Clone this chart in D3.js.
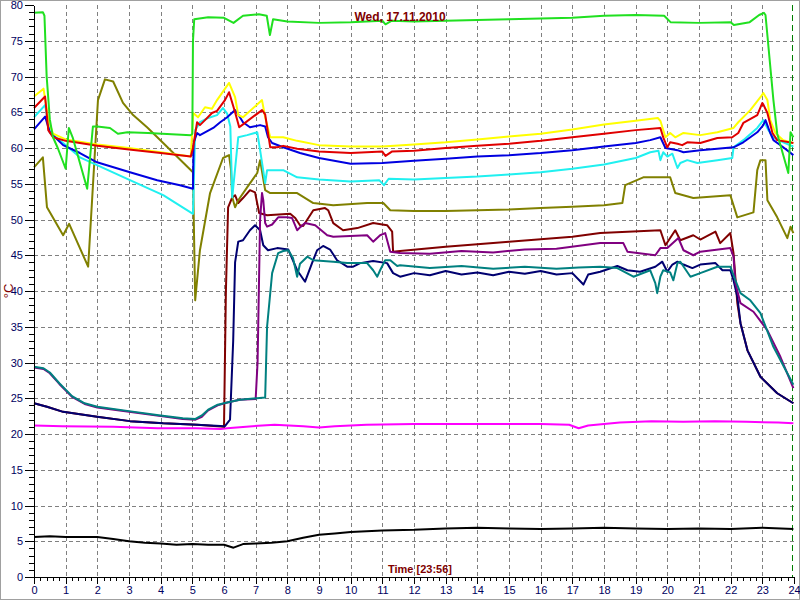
<!DOCTYPE html>
<html><head><meta charset="utf-8">
<script src="https://cdn.jsdelivr.net/npm/d3@7"></script>
<style>body{margin:0;background:#fff}svg{display:block}</style>
</head><body><svg id="c" width="800" height="600"></svg>
<script>
const title = "Wed, 17.11.2010";
const xTitle = "Time [23:56]";
const yTitle = "°C";
const xTicks = d3.range(0, 25, 1);
const yTicks = d3.range(0, 85, 5);
const nowHour = 23.93;

const green = [[0,78.9],[0.28,79],[0.33,78.5],[0.4,70],[0.5,64],[0.6,61.5],[0.75,60],[1.0,57.1],[1.1,62.8],[1.22,61.5],[1.68,54.3],[1.86,63],[2.0,63],[2.4,62.8],[2.65,62],[2.95,62.2],[3.6,62.1],[4.95,61.8],[5.0,62],[5.02,75],[5.06,78],[5.5,78.3],[6.0,78.2],[6.3,77.5],[6.6,78.5],[7.1,78.7],[7.35,78.5],[7.45,75.8],[7.55,78],[8.0,77.7],[9.0,77.5],[10,77.6],[11,77.8],[11.1,77.3],[11.3,77.8],[12,77.7],[13,77.8],[14,77.9],[15,78],[16,78.1],[17,78.2],[18,78.5],[19,78.6],[19.9,78.5],[20.1,77.6],[21,77.5],[22,77.6],[22.1,77.2],[22.6,77.6],[22.9,78.6],[23.05,78.9],[23.1,78.6],[23.35,66.7],[23.47,62],[23.82,56.5],[23.89,62.2],[23.98,61.5]];
const yellow = [[0,67.2],[0.3,68.3],[0.45,64],[0.6,62],[1,61.2],[2,60.5],[3,60],[4,59.4],[4.95,58.8],[5.03,64.9],[5.18,64.3],[5.4,65.7],[5.62,65.5],[5.78,66.7],[5.94,67.7],[6.16,69.1],[6.35,67.1],[6.45,64.6],[6.6,64.3],[7.2,66.7],[7.3,64.3],[7.46,61.5],[7.87,61.5],[8.31,61],[9,60.4],[10,60.2],[11,60.2],[12,60.5],[13,60.8],[14,61.2],[15,61.6],[16,62],[17,62.6],[18,63.3],[19,63.8],[19.7,64.2],[19.78,63.8],[19.94,61.5],[20.09,62.1],[20.25,61.5],[20.51,62.1],[21.04,61.8],[21.58,62.2],[22.09,62.8],[22.24,63.6],[22.62,65.3],[22.94,67.1],[23.03,67.7],[23.16,66.7],[23.25,63.9],[23.41,62.1],[23.66,61.1],[23.98,60.7]];
const red = [[0,65.6],[0.35,67.2],[0.45,62.5],[0.6,61.5],[1,61],[2,60.3],[3,59.8],[4,59.3],[4.95,58.8],[5.02,60],[5.15,63.6],[5.24,63.2],[5.4,63.9],[5.62,64.9],[5.78,65.2],[6.03,66.7],[6.16,67.8],[6.35,65],[6.48,62.9],[6.6,63.3],[7.2,65.3],[7.3,64.7],[7.46,60.1],[7.68,60.1],[7.87,60.3],[8.31,59.9],[9,59.5],[10,59.3],[11,59.5],[11.1,58.9],[11.3,59.5],[12,59.6],[13,60],[14,60.3],[15,60.6],[16,61],[17,61.5],[18,62],[19,62.5],[19.78,62.8],[19.87,61.5],[20.0,60.1],[20.09,60.8],[20.32,60.6],[20.47,60.4],[20.63,60.8],[21.04,60.7],[21.58,61.4],[22.05,61.5],[22.24,62.1],[22.4,63.5],[22.84,64.6],[23.0,66.3],[23.03,66.1],[23.16,64.9],[23.32,62.1],[23.47,61.1],[23.98,60.7]];
const cyan = [[0,64.3],[0.35,66],[0.5,62.2],[0.92,60.7],[1.45,58.7],[1.99,57.6],[3.03,55.5],[4.08,53.4],[5.02,50.8],[5.09,62.5],[5.24,63.6],[5.5,64.2],[5.78,64.6],[5.97,65.6],[6.1,64.8],[6.2,63],[6.26,53.1],[6.45,61.5],[6.73,61.8],[7.05,62.2],[7.14,59.7],[7.3,55.1],[7.36,56.9],[7.87,56.9],[8.31,55.9],[9,55.6],[10,55.3],[10.9,55.5],[11.05,54.8],[11.2,55.7],[12,55.6],[13,55.8],[14,56],[15,56.3],[16,56.6],[17,57.1],[18,57.7],[19,58.6],[19.46,59.4],[19.72,59.6],[19.78,58.3],[19.87,59.4],[20.0,58.8],[20.16,59.2],[20.32,57.2],[20.41,57.9],[20.63,58.3],[20.95,57.9],[21.58,58.3],[22.05,58.6],[22.09,60.1],[22.4,61.1],[22.84,62.8],[23.03,63.9],[23.19,62.5],[23.35,61.5],[23.66,60.8],[23.98,60.2]];
const blue = [[0,62.6],[0.35,64.4],[0.5,62.2],[0.92,60.4],[1.45,59.3],[1.99,58],[3.03,56.6],[3.89,55.5],[4.61,54.8],[5.02,54.3],[5.04,60.7],[5.15,62.1],[5.24,61.8],[5.66,62.8],[5.88,63.6],[6.1,64.3],[6.35,65.3],[6.45,64.7],[6.6,63.6],[6.82,62.9],[7.14,63.2],[7.3,63],[7.39,61.5],[7.52,60.7],[7.87,60.1],[8.4,59.3],[9,58.6],[10,57.8],[11,57.9],[12,58.2],[13,58.5],[14,58.8],[15,59],[16,59.3],[17,59.7],[18,60.2],[19,60.7],[19.46,61.1],[19.78,61.5],[19.94,60],[20.32,59.7],[20.51,59.4],[21.04,59.7],[21.58,59.9],[22.09,60.1],[22.4,60.8],[22.84,62.2],[23.03,63.2],[23.1,63.9],[23.25,62.1],[23.35,61.1],[23.66,60.1],[23.98,59]];
const olive = [[0,57.3],[0.28,58.7],[0.41,51.7],[0.92,47.8],[1.11,49.4],[1.71,43.4],[2.02,66.7],[2.24,69.6],[2.5,69.3],[2.81,66.3],[3.13,64.6],[3.57,62.9],[4.08,60.7],[5.02,56.6],[5.09,38.7],[5.24,45.7],[5.56,53.7],[5.97,58.6],[6.16,59],[6.22,57],[6.26,53.1],[6.35,51.7],[6.45,52.7],[6.73,54.5],[7.05,56.5],[7.14,58.3],[7.3,54.1],[7.46,53.7],[7.87,53.7],[8.31,53.7],[8.82,52.3],[9.45,52],[10.52,52.3],[11.03,52.3],[11.25,51.3],[12,51.2],[13,51.2],[14,51.3],[15,51.4],[16,51.6],[17,51.8],[18,52],[18.58,52.3],[18.67,54.8],[19.24,55.9],[20.09,55.9],[20.25,53.7],[20.82,53],[21.99,53.4],[22.21,50.3],[22.72,51],[22.84,56.9],[22.94,58.3],[23.1,58.3],[23.16,52.7],[23.47,50.3],[23.79,47.4],[23.89,49],[23.98,48.1]];
const maroon = [[0,24.3],[0.41,23.8],[0.92,23.1],[1.99,22.4],[3.03,21.8],[4.08,21.5],[5.15,21.3],[6.0,21],[6.06,40],[6.13,51.7],[6.26,53.1],[6.35,53.4],[6.45,52.3],[6.6,53],[6.82,54.1],[6.98,53.8],[7.11,50.9],[7.36,50.6],[8.09,50.8],[8.25,50.2],[8.4,49.2],[8.5,49.1],[8.82,51.3],[9.19,51.6],[9.29,51.3],[9.45,49.5],[9.76,48.5],[10.21,48.8],[10.71,49.5],[11.15,49.2],[11.31,48.3],[11.34,45.5],[11.56,45.6],[13,46.2],[15,46.9],[17,47.6],[17.88,48.1],[19.78,48.5],[19.94,46.4],[20.25,48.5],[20.41,47.1],[20.82,47.8],[21.04,47.2],[21.52,48.3],[21.67,46.7],[21.99,48.1],[22.09,45.3],[22.21,38.3],[22.31,35.5],[22.53,31.7],[22.94,28],[23.47,25.7],[23.98,24.3]];
const navy = [[0,24.3],[0.41,23.8],[0.92,23.1],[1.99,22.4],[3.03,21.8],[4.08,21.5],[5.15,21.3],[6.03,21.1],[6.19,22],[6.29,33],[6.35,44],[6.45,46.9],[6.6,47.1],[6.82,48.5],[6.98,49.2],[7.14,48.5],[7.24,46.4],[7.39,45.7],[7.68,46],[8.03,45.8],[8.31,42.9],[8.56,41.3],[8.78,43.9],[8.94,45.7],[9.13,46.3],[9.35,45.8],[9.57,44.3],[9.89,43.4],[10.08,43.4],[10.3,43.9],[10.71,44.2],[11.15,43.9],[11.34,42.5],[11.56,42],[12,42.5],[12.5,42.2],[13,42.8],[13.5,42.3],[14,42.6],[14.5,42.2],[15,42.7],[15.5,42.4],[16,42.8],[16.5,42.3],[17,42.5],[17.35,40.9],[17.5,42.3],[17.88,42.7],[18.42,43.5],[18.74,42.9],[19.14,42.7],[19.62,43.4],[19.84,44.1],[20.0,42.7],[20.16,43.7],[20.32,44.1],[20.51,43.7],[20.79,43.2],[21.04,43.7],[21.52,43.9],[21.74,42.9],[21.99,42.9],[22.09,41.5],[22.21,39.2],[22.31,35.5],[22.53,31.7],[22.94,28],[23.47,25.7],[23.98,24.3]];
const purple = [[0,29.3],[0.3,29.1],[0.5,28.5],[0.8,27],[1.2,25.2],[1.6,24.2],[2,23.7],[3,23.1],[4,22.5],[4.7,22.1],[5.1,22],[5.3,22.4],[5.5,23.3],[5.8,24],[6.1,24.4],[6.5,24.8],[7.0,24.9],[7.06,30],[7.14,50],[7.2,53.7],[7.24,52.7],[7.3,49.5],[7.36,49],[7.52,49.3],[7.71,50.3],[7.99,50.3],[8.15,50.2],[8.31,48.5],[8.4,48.9],[8.56,49.5],[8.88,49.2],[9.26,47.8],[9.45,47.6],[10.52,47.8],[10.71,46.9],[10.93,47.8],[11.09,48.1],[11.25,45.5],[11.56,45.3],[12.5,45.2],[13.5,45.6],[14.5,45.4],[15.5,45.8],[16.5,45.9],[17.88,46.7],[18.61,46.7],[18.74,45.5],[19.62,45],[19.78,46],[20.0,46],[20.35,47.4],[20.51,45.7],[20.82,45],[21.04,45.5],[21.99,46],[22.09,44.8],[22.15,41.1],[22.31,38.3],[22.72,37.1],[23.16,34.5],[23.57,30.8],[23.98,26.4]];
const teal = [[0,29.4],[0.3,29.2],[0.5,28.6],[0.8,27.1],[1.2,25.3],[1.6,24.3],[2,23.8],[3,23.2],[4,22.6],[4.7,22.2],[5.1,22.1],[5.3,22.6],[5.5,23.4],[5.8,24.1],[6.1,24.4],[6.5,24.8],[7.3,25.1],[7.36,35],[7.52,42.5],[7.71,45.3],[7.87,45.6],[8.03,45.7],[8.18,44.6],[8.31,42],[8.4,43.8],[8.63,44.8],[8.82,44.3],[9.45,44.1],[9.89,43.9],[10.52,43.9],[10.71,42.9],[10.84,42],[10.93,42.9],[11.09,44.3],[11.25,44.3],[11.47,43.5],[11.56,43.6],[12.5,43.2],[13.5,43.5],[14.5,43.1],[15.5,43.4],[16.5,43.1],[17.2,43.3],[17.88,43.4],[18.42,43.2],[18.93,42],[19.46,42.9],[19.62,41.1],[19.68,39.7],[19.78,42],[19.87,42.9],[20.09,42.6],[20.19,41.5],[20.32,43.9],[20.41,44.1],[20.73,42],[21.04,42.5],[21.58,43.4],[21.99,43.4],[22.15,41.5],[22.31,39.7],[22.62,38.7],[22.94,36.9],[23.35,32.2],[23.98,26.9]];
const magenta = [[0,21.2],[0.9,21.1],[2.5,21],[3.9,20.8],[5.1,20.8],[5.9,20.7],[6.1,20.8],[6.9,21.1],[7.6,21.3],[8.5,21.1],[9,20.9],[9.5,21.1],[10.5,21.3],[12,21.4],[14,21.4],[16,21.4],[16.9,21.3],[17.2,20.8],[17.5,21.2],[18.5,21.6],[19.5,21.8],[20.5,21.7],[21.5,21.8],[22.5,21.7],[23.5,21.6],[23.98,21.5]];
const black = [[0,5.6],[0.5,5.7],[1,5.6],[2,5.6],[2.5,5.3],[3,5.0],[3.5,4.8],[4,4.7],[4.5,4.5],[5,4.6],[5.5,4.5],[6,4.5],[6.3,4.1],[6.6,4.6],[7,4.7],[7.5,4.8],[8,5.0],[8.5,5.5],[9,5.9],[9.5,6.1],[10,6.3],[11,6.5],[12,6.6],[13,6.8],[14,6.9],[15,6.8],[16,6.7],[17,6.8],[18,6.9],[19,6.8],[20,6.7],[21,6.8],[22,6.7],[23,6.9],[23.98,6.7]];

const series = [
  {data: black, color: "#000000"},
  {data: magenta, color: "#ff00ff"},
  {data: maroon, color: "#800000"},
  {data: navy, color: "#000070"},
  {data: purple, color: "#800080"},
  {data: teal, color: "#008080"},
  {data: olive, color: "#808000"},
  {data: cyan, color: "#20f0f0"},
  {data: blue, color: "#0000e0"},
  {data: yellow, color: "#ffff00"},
  {data: red, color: "#e00000"},
  {data: green, color: "#20e020"}
];

const svg = d3.select("#c");
const x = d3.scaleLinear().domain([0, 24]).range([34, 794]);
const y = d3.scaleLinear().domain([0, 80]).range([577, 5]);

svg.append("rect").attr("x",0.5).attr("y",0.5).attr("width",799).attr("height",599)
  .attr("fill","#fff").attr("stroke","#a0a0a0");

// grid
const grid = svg.append("g").attr("stroke","#808080").attr("stroke-dasharray","4,3").attr("shape-rendering","crispEdges");
grid.selectAll(".gv").data(xTicks.filter(d => d > 0 && d < 24)).join("line")
  .attr("x1", d => Math.round(x(d)) + 0.5).attr("x2", d => Math.round(x(d)) + 0.5)
  .attr("y1", y(80)).attr("y2", y(0));
grid.selectAll(".gh").data(yTicks.filter(d => d > 0 && d < 80)).join("line")
  .attr("y1", d => Math.round(y(d)) + 0.5).attr("y2", d => Math.round(y(d)) + 0.5)
  .attr("x1", x(0)).attr("x2", x(24));

// current time marker
svg.append("line").attr("x1", Math.round(x(nowHour))+0.5).attr("x2", Math.round(x(nowHour))+0.5)
  .attr("y1", y(80)).attr("y2", y(0)).attr("stroke","#008000").attr("stroke-dasharray","6,4");

// lines
const line = d3.line().x(d => x(d[0])).y(d => y(d[1]));
svg.append("g").selectAll("path").data(series).join("path")
  .attr("d", d => line(d.data)).attr("fill","none")
  .attr("stroke", d => d.color).attr("stroke-width", 2).attr("stroke-linejoin","round");

// axes
const axisColor = "#000060";
const yMinor = svg.append("g").attr("transform", `translate(${x(0)},0)`)
  .call(d3.axisLeft(y).tickValues(d3.range(0, 81, 1)).tickSize(5).tickFormat(""));
const yAxis = svg.append("g").attr("transform", `translate(${x(0)},0)`)
  .call(d3.axisLeft(y).tickValues(yTicks).tickSize(9).tickSizeOuter(0).tickPadding(2));
const xMinor = svg.append("g").attr("transform", `translate(0,${y(0)})`)
  .call(d3.axisBottom(x).tickValues(d3.range(0, 24.01, 0.2)).tickSize(4).tickFormat(""));
const xAxis = svg.append("g").attr("transform", `translate(0,${y(0)})`)
  .call(d3.axisBottom(x).tickValues(xTicks).tickSize(7).tickSizeOuter(0).tickPadding(2));
[yMinor, yAxis, xMinor, xAxis].forEach(g => {
  g.selectAll("path").attr("stroke","#000").attr("shape-rendering","crispEdges");
  g.selectAll("line").attr("stroke","#000").attr("shape-rendering","crispEdges");
  g.selectAll("text").attr("fill", axisColor).style("font-family","Arial, 'Liberation Sans', sans-serif").style("font-size","11px");
});
yMinor.select("path").remove(); xMinor.select("path").remove();

// titles
svg.append("text").attr("x", 400).attr("y", 21).attr("text-anchor","middle")
  .attr("fill","#800000").style("font-family","Arial, 'Liberation Sans', sans-serif")
  .style("font-size","12px").style("font-weight","bold").text(title);
svg.append("text").attr("x", 420).attr("y", 573).attr("text-anchor","middle")
  .attr("fill","#800000").style("font-family","Arial, 'Liberation Sans', sans-serif")
  .style("font-size","11px").style("font-weight","bold").text(xTitle);
svg.append("text").attr("transform","translate(13,291) rotate(-90)").attr("text-anchor","middle")
  .attr("fill","#800000").style("font-family","Arial, 'Liberation Sans', sans-serif")
  .style("font-size","13px").text(yTitle);
</script></body></html>
